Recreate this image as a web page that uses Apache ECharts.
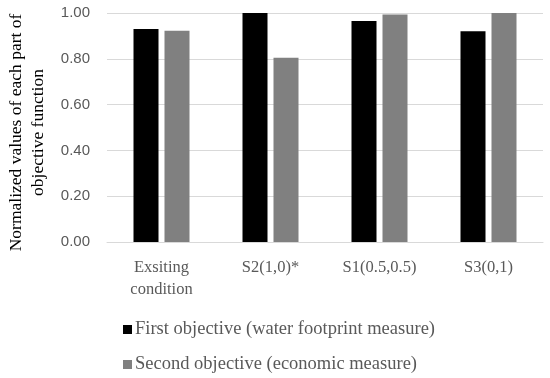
<!DOCTYPE html>
<html><head><meta charset="utf-8">
<script src="https://cdn.jsdelivr.net/npm/echarts@6/dist/echarts.min.js"></script>
<style>html,body{margin:0;padding:0;background:#fff}#c{width:550px;height:378px}</style>
</head><body><div id="c"></div>
<script>
var categories = ['Exsiting\ncondition', 'S2(1,0)*', 'S1(0.5,0.5)', 'S3(0,1)'];
var firstObjective = [0.93, 1.00, 0.965, 0.92];
var secondObjective = [0.922, 0.805, 0.993, 1.00];
var seriesNames = ['First objective (water footprint measure)', 'Second objective (economic measure)'];
var yTicks = [0, 0.2, 0.4, 0.6, 0.8, 1.0];

var serif = "'Liberation Serif', serif";
var legendText = {fontFamily: serif, fontSize: 18.5, color: '#595959', padding: [0,0,0,-2]};
var chart = echarts.init(document.getElementById('c'), null, {renderer: 'canvas'});
chart.setOption({
  animation: false,
  backgroundColor: '#fff',
  grid: {left: 107, right: 7, top: 13, bottom: 136, outerBoundsMode: 'none', containLabel: false},
  legend: [
    {left: 118, top: 315, itemWidth: 9, itemHeight: 9, icon: 'rect', textStyle: legendText, data: [seriesNames[0]]},
    {left: 118, top: 350, itemWidth: 9, itemHeight: 9, icon: 'rect', textStyle: legendText, data: [seriesNames[1]]}
  ],
  xAxis: {
    type: 'category', data: categories,
    axisLine: {lineStyle: {color: '#d9d9d9', width: 1}},
    axisTick: {show: false},
    axisLabel: {fontFamily: serif, fontSize: 16.5, color: '#595959', margin: 15, lineHeight: 22}
  },
  yAxis: {
    type: 'value', min: 0, max: 1, interval: 0.2,
    name: 'Normalized values of each part of\nobjective function',
    nameLocation: 'middle', nameRotate: 90, nameGap: 57,
    nameTextStyle: {fontFamily: serif, fontSize: 17.5, color: '#000', lineHeight: 22, padding: [0, 10, 0, 0]},
    axisLine: {show: false}, axisTick: {show: false},
    splitLine: {lineStyle: {color: '#d9d9d9', width: 1}},
    axisLabel: {fontFamily: "'Liberation Sans', sans-serif", fontSize: 15, color: '#595959', margin: 17,
      formatter: function(v){ return v.toFixed(2); }}
  },
  series: [
    {name: seriesNames[0], type: 'bar', data: firstObjective, barWidth: 25, barGap: '24%', itemStyle: {color: '#000000'}},
    {name: seriesNames[1], type: 'bar', data: secondObjective, barWidth: 25, itemStyle: {color: '#808080'}}
  ]
});
</script></body></html>
